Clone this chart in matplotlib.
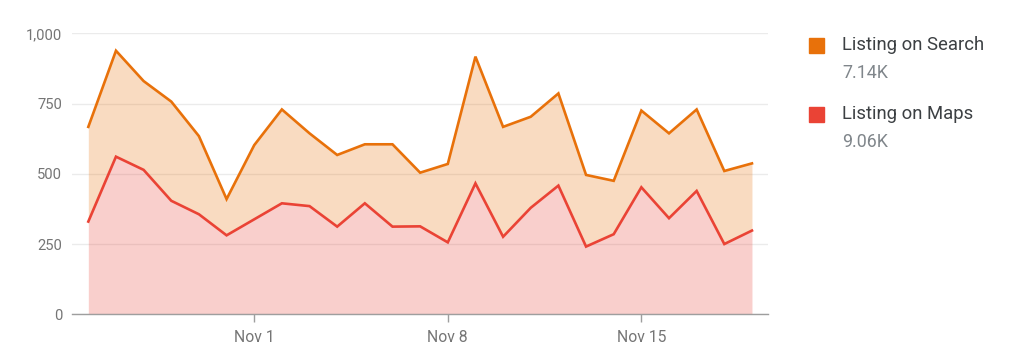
import matplotlib
matplotlib.use("Agg")
import matplotlib.pyplot as plt
from matplotlib.patches import Rectangle
import numpy as np

plt.rcParams['font.family'] = ['Roboto', 'DejaVu Sans']

dates = ["Oct 26", "Oct 27", "Oct 28", "Oct 29", "Oct 30", "Oct 31", "Nov 1",
         "Nov 2", "Nov 3", "Nov 4", "Nov 5", "Nov 6", "Nov 7", "Nov 8",
         "Nov 9", "Nov 10", "Nov 11", "Nov 12", "Nov 13", "Nov 14", "Nov 15",
         "Nov 16", "Nov 17", "Nov 18", "Nov 19"]
maps = [330, 561, 514, 404, 356, 281, 338, 395, 385, 312, 395, 312, 313, 256,
        466, 276, 379, 458, 241, 285, 452, 342, 439, 250, 298]
search = [337, 377, 316, 353, 278, 129, 264, 334, 259, 255, 210, 293, 191, 279,
          451, 391, 324, 328, 255, 190, 273, 302, 290, 260, 239]
series_names = ["Listing on Search", "Listing on Maps"]
series_totals = ["7.14K", "9.06K"]
tick_dates = ["Nov 1", "Nov 8", "Nov 15"]
y_ticks = [0, 250, 500, 750, 1000]

c_search = "#E8710A"
c_maps = "#EA4335"

fig = plt.figure(figsize=(10.22, 3.63), dpi=100)
ax = fig.add_axes([72 / 1022, 48.7 / 363, 696 / 1022, 281 / 363])

x = np.arange(len(dates))
maps_a = np.array(maps)
top = maps_a + np.array(search)

ax.fill_between(x, 0, maps_a, color=c_maps, alpha=0.25, linewidth=0, zorder=2)
ax.fill_between(x, maps_a, top, color=c_search, alpha=0.25, linewidth=0, zorder=2)
ax.plot(x, maps_a, color=c_maps, linewidth=1.9, zorder=4, solid_joinstyle='miter')
ax.plot(x, top, color=c_search, linewidth=1.9, zorder=4, solid_joinstyle='miter')

ax.set_xlim(-0.59, len(dates) - 1 + 0.58)
ax.set_ylim(0, 1000)
ax.set_yticks(y_ticks)
ax.set_yticklabels([f"{v:,}" for v in y_ticks])
ax.set_xticks([dates.index(d) for d in tick_dates])
ax.set_xticklabels(tick_dates)

ax.grid(axis='y', color='#ebebeb', linewidth=1, zorder=0)
ax.set_axisbelow(True)
for s in ['top', 'right', 'left']:
    ax.spines[s].set_visible(False)
ax.spines['bottom'].set_color('#9e9e9e')
ax.spines['bottom'].set_linewidth(1)
ax.spines['bottom'].set_zorder(5)
ax.tick_params(axis='y', length=0, pad=7, labelsize=10.6, labelcolor='#757575')
ax.tick_params(axis='x', length=6, width=1, color='#9e9e9e', pad=5.5,
               labelsize=11.3, labelcolor='#757575')

# legend
colors = [c_search, c_maps]
for i, (name, tot, col) in enumerate(zip(series_names, series_totals, colors)):
    yc = 45 + i * 69
    fig.patches.append(Rectangle((809 / 1022, 1 - (yc + 7.5) / 363), 15 / 1022, 15 / 363,
                                 transform=fig.transFigure, color=col, figure=fig))
    fig.text(842 / 1022, 1 - yc / 363, name, ha='left', va='center',
             fontsize=13.3, color='#3c4043')
    fig.text(842 / 1022, 1 - (yc + 28) / 363, tot, ha='left', va='center',
             fontsize=12.9, color='#80868b')

fig.savefig("out.png", dpi=100)
